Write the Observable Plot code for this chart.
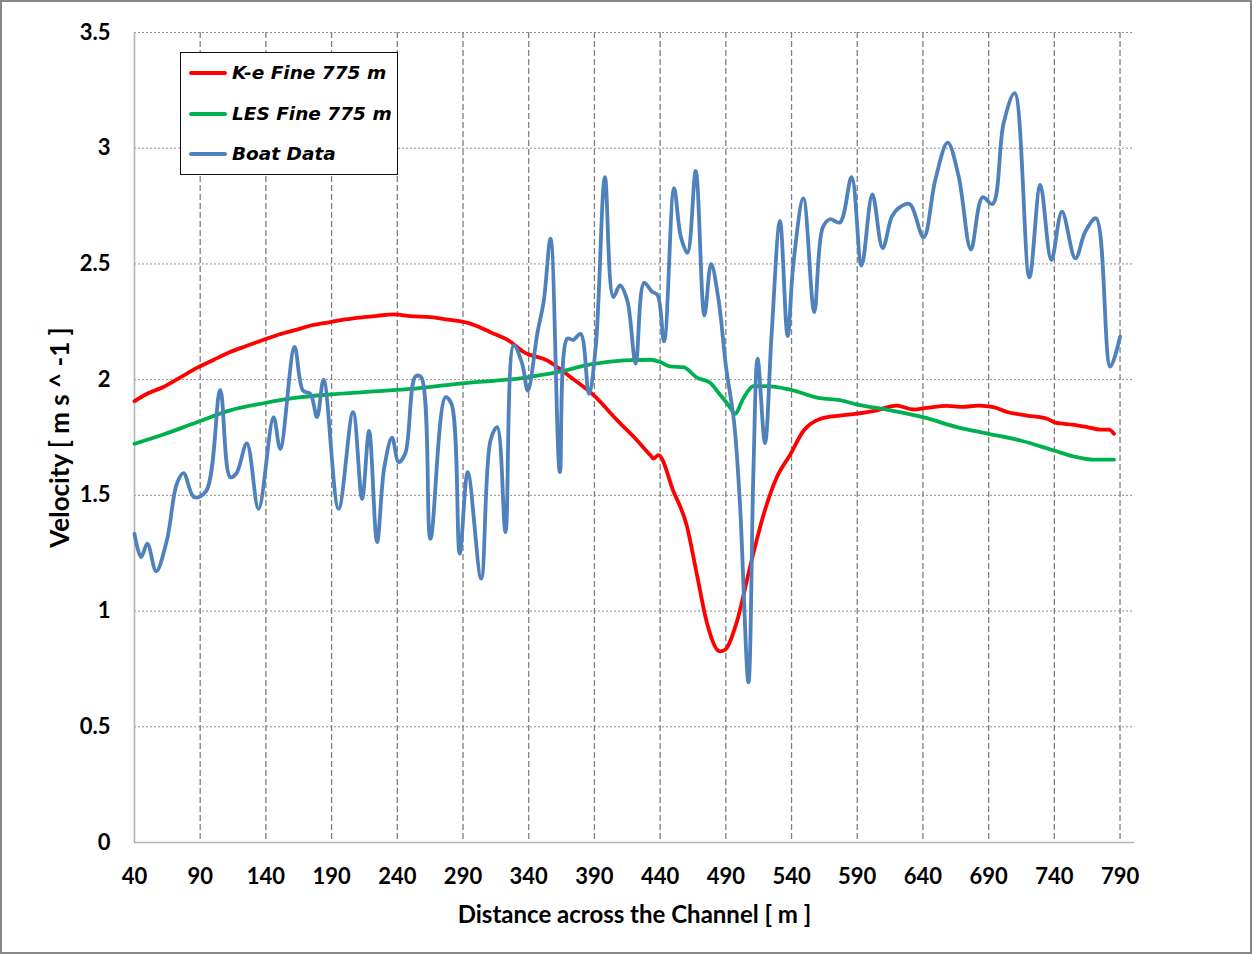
<!DOCTYPE html>
<html>
<head>
<meta charset="utf-8">
<script src="https://cdn.jsdelivr.net/npm/d3@7"></script>
<script src="https://cdn.jsdelivr.net/npm/@observablehq/plot@0.6"></script>
<style>
  html, body { margin: 0; padding: 0; background: #ffffff; }
  #wrap { position: relative; width: 1252px; height: 954px; overflow: hidden; background: #fff; }
  #frame { position: absolute; left: 0; top: 0; width: 1252px; height: 954px; box-sizing: border-box; border: 2px solid #868686; pointer-events: none; }
  #legend { position: absolute; left: 180px; top: 52px; width: 218px; height: 123px; box-sizing: border-box; border: 1.3px solid #111; background: #fff;
            font-family: "DejaVu Sans", sans-serif; font-weight: bold; font-style: italic; font-size: 18.5px; color: #000; }
  .row { position: absolute; left: 0; right: 0; height: 0; }
  .sw { position: absolute; left: 8px; width: 38px; height: 4px; top: -2px; border-radius: 2px; }
  .lab { position: absolute; left: 51px; top: -12px; line-height: 24px; white-space: nowrap; }
</style>
</head>
<body>
<div id="wrap"></div>
<script>
// ---- data ----
const xTicks = [40, 90, 140, 190, 240, 290, 340, 390, 440, 490, 540, 590, 640, 690, 740, 790];
const yTicks = [0, 0.5, 1, 1.5, 2, 2.5, 3, 3.5];
const yTickLabels = ["0", "0.5", "1", "1.5", "2", "2.5", "3", "3.5"];
const xTitle = "Distance across the Channel [ m ]";
const yTitle = "Velocity [ m s ^ -1 ]";
const seriesNames = ["K-e Fine 775 m", "LES Fine 775 m", "Boat Data"];
const seriesColors = ["#ff0000", "#00b050", "#4f81bd"];

const keDist = [40, 50, 62, 75, 87.5, 100, 112.8, 125, 138.2, 150, 163.6, 175, 189, 200, 214.4, 225, 237.2, 250, 265.2, 280, 294.4, 310.9, 324.8, 336.3, 354, 371.8, 389.6, 407.4, 420.1, 432.8, 435, 438.7, 450.1, 460.3, 467.9, 475.5, 485.6, 489.4, 498.3, 508.4, 518.6, 528.7, 538.8, 549, 561.6, 576.8, 589.5, 602.2, 620, 632.7, 642.9, 658.2, 670, 682.4, 693.8, 704, 719.3, 734.5, 740.9, 754.9, 765, 775.2, 781.6, 785.4];
const keVel  = [1.907, 1.94, 1.968, 2.01, 2.051, 2.085, 2.119, 2.145, 2.172, 2.195, 2.216, 2.235, 2.249, 2.26, 2.27, 2.276, 2.282, 2.274, 2.27, 2.258, 2.244, 2.205, 2.169, 2.119, 2.083, 2.011, 1.932, 1.824, 1.752, 1.672, 1.659, 1.674, 1.518, 1.369, 1.161, 0.952, 0.826, 0.833, 0.952, 1.19, 1.414, 1.577, 1.674, 1.778, 1.83, 1.845, 1.853, 1.864, 1.888, 1.871, 1.878, 1.887, 1.882, 1.888, 1.881, 1.86, 1.845, 1.831, 1.814, 1.805, 1.795, 1.784, 1.784, 1.766];

const lesDist = [40, 62, 87.5, 112.8, 138.2, 163.6, 189, 214.4, 250, 285.5, 336.3, 361.7, 387.1, 412.5, 432.8, 440, 447.6, 457.7, 467.9, 478, 485.6, 492, 497, 503.4, 511, 521.1, 538.8, 561.6, 576.8, 589.5, 612.4, 640, 665.8, 690, 714.2, 739.6, 754.9, 770.1, 785.4];
const lesVel  = [1.723, 1.763, 1.816, 1.867, 1.898, 1.922, 1.936, 1.946, 1.96, 1.982, 2.008, 2.032, 2.066, 2.083, 2.086, 2.076, 2.057, 2.054, 2.009, 1.987, 1.935, 1.89, 1.853, 1.92, 1.972, 1.972, 1.957, 1.92, 1.912, 1.893, 1.87, 1.838, 1.795, 1.766, 1.737, 1.694, 1.668, 1.654, 1.654];

const boatDist = [40, 45, 49.8, 56.5, 64.6, 72.2, 77.3, 85.4, 94.5, 105.2, 112.8, 117.4, 125.5, 134.4, 145.8, 150.9, 161.8, 168.2, 173.8, 178.9, 183.9, 195.3, 206.3, 213.2, 218.5, 224.6, 230.1, 236, 241, 246, 253.8, 258.1, 265.2, 276.6, 281.2, 287.5, 293.6, 303.8, 310.9, 316, 322.3, 328.6, 335, 339.3, 346.5, 351.5, 356.6, 363.7, 369.3, 373.9, 379.5, 385.8, 391, 398, 404.4, 409.4, 415, 421.4, 427.8, 433.7, 438, 443, 450.6, 455.7, 460.8, 467.1, 473.7, 478.8, 484.3, 490.2, 496.3, 500.8, 507.2, 511, 514.2, 519.8, 524.9, 531.2, 537, 541.4, 549, 557.3, 563.7, 569.2, 576.8, 585.7, 593.3, 601.5, 609.3, 616.4, 621.5, 629.8, 640.5, 649.4, 658.8, 667.2, 676.5, 685.4, 693, 701.4, 709.8, 721, 729.3, 737.7, 745.8, 756, 763.6, 771.7, 782.6, 790];
const boatVel  = [1.334, 1.233, 1.291, 1.172, 1.305, 1.55, 1.596, 1.492, 1.518, 1.956, 1.579, 1.593, 1.725, 1.442, 1.838, 1.701, 2.141, 1.953, 1.939, 1.838, 2.0, 1.442, 1.86, 1.485, 1.778, 1.298, 1.622, 1.749, 1.644, 1.68, 2.014, 2.011, 1.312, 1.924, 1.896, 1.248, 1.6, 1.14, 1.737, 1.795, 1.341, 2.148, 2.069, 1.953, 2.198, 2.342, 2.609, 1.6, 2.177, 2.172, 2.198, 1.939, 2.141, 2.875, 2.357, 2.407, 2.342, 2.069, 2.418, 2.381, 2.366, 2.165, 2.827, 2.619, 2.548, 2.902, 2.277, 2.5, 2.351, 2.054, 1.816, 1.458, 0.692, 1.607, 2.091, 1.726, 2.202, 2.686, 2.188, 2.5, 2.783, 2.292, 2.656, 2.693, 2.679, 2.875, 2.493, 2.8, 2.568, 2.705, 2.741, 2.759, 2.615, 2.863, 3.024, 2.878, 2.563, 2.788, 2.759, 3.108, 3.238, 2.442, 2.841, 2.517, 2.726, 2.524, 2.64, 2.697, 2.056, 2.186];

// ---- build ----
const toRows = (xs, vs) => xs.map((d, i) => ({dist: d, vel: vs[i]}));
const keRows = toRows(keDist, keVel);
const lesRows = toRows(lesDist, lesVel);
const boatRows = toRows(boatDist, boatVel);

const chart = Plot.plot({
  width: 1252,
  height: 954,
  marginLeft: 134,
  marginRight: 118,
  marginTop: 32,
  marginBottom: 112,
  style: {fontFamily: "Lato, 'Liberation Sans', sans-serif", fontSize: "22px", fontWeight: "bold", color: "#000", background: "transparent", overflow: "visible"},
  x: {domain: [40, 801]},
  y: {domain: [0, 3.5]},
  marks: [
    Plot.gridY(yTicks.slice(1), {stroke: "#8c8c8c", strokeOpacity: 1, strokeDasharray: "2,2", strokeWidth: 1}),
    Plot.gridX(xTicks.slice(1), {stroke: "#7f7f7f", strokeOpacity: 1, strokeDasharray: "6,3", strokeWidth: 1.3}),
    Plot.ruleX([40], {stroke: "#b3b3b3", strokeWidth: 1.6}),
    Plot.ruleY([0], {stroke: "#b3b3b3", strokeWidth: 1.6}),
    Plot.axisX(xTicks, {tickSize: 0, tickPadding: 26, label: xTitle, labelAnchor: "center", labelOffset: 80, labelArrow: "none"}),
    Plot.axisY(yTicks, {tickSize: 0, tickPadding: 24, tickFormat: (d) => yTickLabels[yTicks.indexOf(d)], label: yTitle, labelAnchor: "center", labelOffset: 84, labelArrow: "none"}),
    Plot.line(keRows, {x: "dist", y: "vel", stroke: seriesColors[0], strokeWidth: 3.8, curve: "monotone-x"}),
    Plot.line(lesRows, {x: "dist", y: "vel", stroke: seriesColors[1], strokeWidth: 3.8, curve: "monotone-x"}),
    Plot.line(boatRows, {x: "dist", y: "vel", stroke: seriesColors[2], strokeWidth: 3.8, curve: "catmull-rom"})
  ]
});

const wrap = document.getElementById("wrap");
wrap.appendChild(chart);

// axis titles size
chart.querySelectorAll('[aria-label="x-axis label"] text').forEach(t => t.setAttribute("font-size", "24"));
chart.querySelectorAll('[aria-label="y-axis label"] text').forEach(t => t.setAttribute("font-size", "26"));

// legend
const legend = document.createElement("div");
legend.id = "legend";
const rowY = [20, 61, 101];
seriesNames.forEach((name, i) => {
  const row = document.createElement("div");
  row.className = "row";
  row.style.top = rowY[i] + "px";
  const sw = document.createElement("div");
  sw.className = "sw";
  sw.style.background = seriesColors[i];
  const lab = document.createElement("div");
  lab.className = "lab";
  lab.textContent = name;
  row.appendChild(sw);
  row.appendChild(lab);
  legend.appendChild(row);
});
wrap.appendChild(legend);

const frame = document.createElement("div");
frame.id = "frame";
wrap.appendChild(frame);
</script>
</body>
</html>
